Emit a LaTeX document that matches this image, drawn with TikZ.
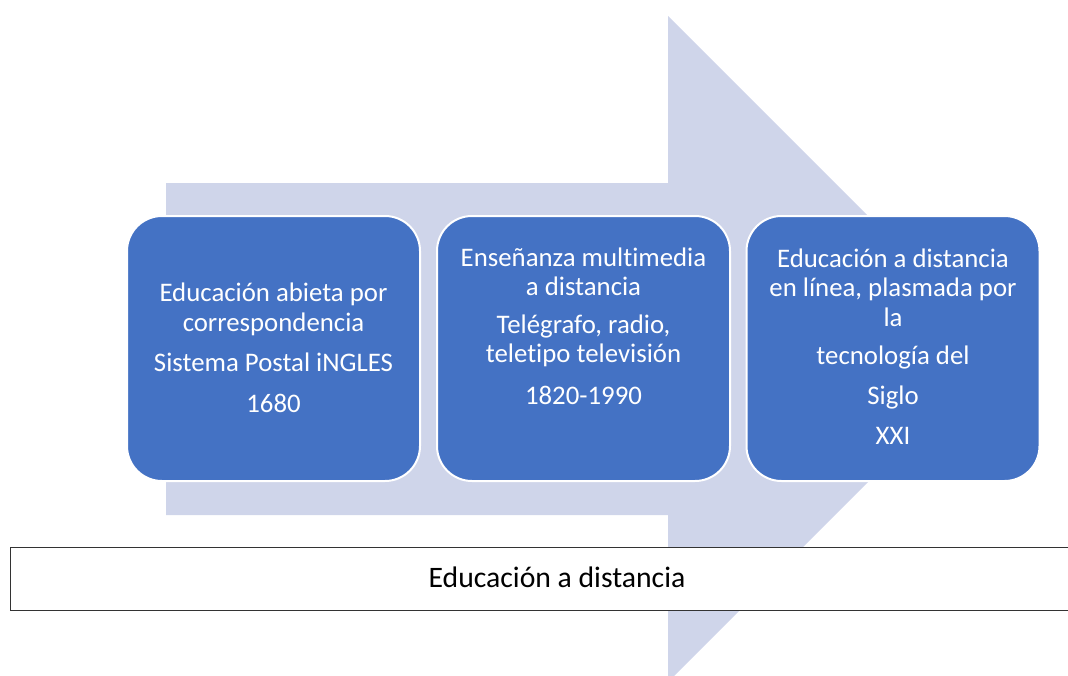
\documentclass[tikz,border=0pt]{standalone}
\usepackage{fontspec}
\setmainfont{Carlito}[Ligatures=NoCommon]
\definecolor{boxblue}{HTML}{4472C4}
\definecolor{arrowfill}{HTML}{CFD5EA}
\begin{document}
\begin{tikzpicture}[x=1pt,y=-1pt,
 stagebox/.style={draw=white, line width=2pt, fill=boxblue, rounded corners=35pt, minimum width=293pt, minimum height=265pt, inner sep=0pt},
 stagetext/.style={text=white, align=center, font=\fontsize{26.8}{29.5}\selectfont, inner sep=0pt},
 basebox/.style={draw=black!80, line width=1pt, fill=white, minimum width=1094pt, minimum height=63pt, inner sep=0pt, anchor=north west},
 basetext/.style={text=black, font=\fontsize{29.7}{33}\selectfont, inner sep=0pt}
]
\useasboundingbox (0,0) rectangle (1068,675);
\begin{scope}
\clip (0,0) rectangle (1068,675);
\fill[arrowfill] (166,183) -- (668,183) -- (668,16) -- (1001,349) -- (668,682) -- (668,515) -- (166,515) -- cycle;
\node[stagebox] (b1) at (273.5,348.5) {};
\node[stagebox] (b2) at (583.5,348.5) {};
\node[stagebox] (b3) at (893,348.5) {};
\node[stagetext] (t1) at (273.5,348) {Educación abieta por\\correspondencia\\[11pt]Sistema Postal iNGLES\\[11pt]1680};
\node[stagetext] (t2) at (583.5,326) {Enseñanza multimedia\\a distancia\\[8pt]Telégrafo, radio,\\teletipo televisión\\[12pt]1820-1990};
\node[stagetext] (t3) at (893,346.5) {Educación a distancia\\en línea, plasmada por\\la\\[9pt]tecnología del\\[10pt]Siglo\\[11pt]XXI};
\node[basebox] (base) at (10,547) {};
\node[basetext] (bt) at (557,577.5) {Educación a distancia};
\end{scope}
\end{tikzpicture}
\end{document}
